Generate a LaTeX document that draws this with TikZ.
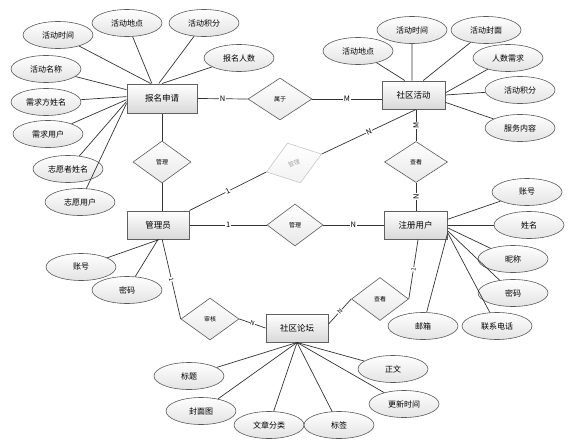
\documentclass[tikz,border=0pt]{standalone}
\usepackage{fontspec}
\setmainfont{Noto Sans CJK SC}
\usetikzlibrary{shapes.geometric,calc}
\begin{document}
\begin{tikzpicture}[x=1pt,y=-1pt,
  ent/.style={rectangle, draw=gray!75!black, line width=1pt, top color=white, bottom color=gray!30, minimum width=63pt, minimum height=28pt, inner sep=0pt, font=\fontsize{8.5}{9}\selectfont},
  attr/.style={ellipse, draw=gray!70!black, line width=0.6pt, top color=white, bottom color=gray!22, minimum width=70pt, minimum height=27pt, inner sep=0pt, font=\fontsize{8}{9}\selectfont},
  rel/.style={diamond, draw=gray!70!black, line width=0.6pt, top color=white, bottom color=gray!18, minimum width=58pt, minimum height=42pt, inner sep=0pt, font=\fontsize{6}{7}\selectfont},
  conn/.style={draw=black!80, line width=0.7pt},
  lbl/.style={fill=white, inner sep=0.6pt, font=\fontsize{7.5}{8}\selectfont},
  slbl/.style={fill=white, inner sep=0.5pt, sloped, font=\fontsize{6}{6.5}\selectfont}
]
\useasboundingbox (0,0) rectangle (575,444);

% entities
\node[ent, minimum width=70pt, minimum height=29pt] (bm) at (162,98.5) {报名申请};
\node[ent] (sa) at (413.5,95) {社区活动};
\node[ent, minimum width=62pt] (gly) at (158,225) {管理员};
\node[ent] (zc) at (415.5,225) {注册用户};
\node[ent, minimum width=62pt] (lt) at (297,328) {社区论坛};

% relationships
\node[rel, minimum width=64pt] (sy) at (280,99) {属于};
\node[rel] (gl1) at (162,162) {管理};
\node[rel, draw=gray!45, bottom color=gray!10, text=gray!70, rotate=18] (gl2) at (294,163) {管理};
\node[rel, minimum width=63pt, minimum height=41pt] (ck1) at (416,162) {查看};
\node[rel, minimum width=56pt] (gl3) at (295,225) {管理};
\node[rel] (sh) at (210,319) {审核};
\node[rel, minimum width=57pt, minimum height=43pt] (ck2) at (380,299) {查看};

% attributes of 报名申请
\node[attr] (a1) at (58,35) {活动时间};
\node[attr] (a2) at (127,23) {活动地点};
\node[attr] (a3) at (204,23) {活动积分};
\node[attr] (a4) at (239,58) {报名人数};
\node[attr] (a5) at (46,69) {活动名称};
\node[attr] (a6) at (46,102) {需求方姓名};
\node[attr] (a7) at (48,134) {需求用户};
\node[attr] (a8) at (68,169) {志愿者姓名};
\node[attr] (a9) at (80,202) {志愿用户};

% attributes of 社区活动
\node[attr] (b1) at (358,51) {活动地点};
\node[attr] (b2) at (412,30) {活动时间};
\node[attr] (b3) at (486,30) {活动封面};
\node[attr] (b4) at (508,58) {人数需求};
\node[attr] (b5) at (520,90) {活动积分};
\node[attr] (b6) at (520,128) {服务内容};

% attributes of 管理员
\node[attr] (c1) at (81,267) {账号};
\node[attr] (c2) at (127,290) {密码};

% attributes of 注册用户
\node[attr] (d1) at (527,192) {账号};
\node[attr] (d2) at (529,225) {姓名};
\node[attr] (d3) at (513,259) {昵称};
\node[attr] (d4) at (513,293) {密码};
\node[attr] (d5) at (423,326) {邮箱};
\node[attr] (d6) at (497,326) {联系电话};

% attributes of 社区论坛
\node[attr] (e1) at (189,376) {标题};
\node[attr] (e2) at (201,411) {封面图};
\node[attr] (e3) at (269,425) {文章分类};
\node[attr] (e4) at (339,425) {标签};
\node[attr] (e5) at (404,404) {更新时间};
\node[attr] (e6) at (393,369) {正文};

% attribute connectors
\draw[conn] (a1) -- (bm.127);
\draw[conn] (a2) -- (bm.124);
\draw[conn] (a3) -- (bm.102);
\draw[conn] (a4) -- (bm.90);
\draw[conn] (a5) -- (bm.166);
\draw[conn] (a6) -- (bm.177);
\draw[conn] (a7) -- (bm.182);
\draw[conn] (a8) -- (bm.185);
\draw[conn] (a9) -- (bm.188);

\draw[conn] (b1) -- (sa.121);
\draw[conn] (b2) -- (sa.96);
\draw[conn] (b3) -- (sa.56);
\draw[conn] (b4) -- (sa.4);
\draw[conn] (b5) -- (sa.0);
\draw[conn] (b6) -- (sa.347);

\draw[conn] (c1) -- (gly.275);
\draw[conn] (c2) -- (gly.270);

\draw[conn] (d1) -- (zc.10);
\draw[conn] (d2) -- (zc.0);
\draw[conn] (d3) -- (zc.355);
\draw[conn] (d4) -- (zc.350);
\draw[conn] (d5) -- (zc.345);
\draw[conn] (d6) -- (zc.347);

\draw[conn] (e1) -- (lt.south);
\draw[conn] (e2) -- (lt.south);
\draw[conn] (e3) -- (lt.south);
\draw[conn] (e4) -- (lt.south);
\draw[conn] (e5) -- (lt.south);
\draw[conn] (e6) -- (lt.south);

% relationship connectors
\coordinate (sab) at (ck1.north |- sa.south);
\draw[conn] (bm.east) -- node[lbl]{N} (sy.west);
\draw[conn] (sy.east) -- node[lbl]{M} (sy.east -| sa.west);
\draw[conn] (bm.south) -- (gl1.north);
\draw[conn] (gl1.south) -- (gl1.south |- gly.north);
\draw[conn] (sab) -- node[lbl, rotate=90]{M} (ck1.north);
\draw[conn] (ck1.south) -- node[lbl, rotate=90]{N} (ck1.south |- zc.north);
\draw[conn] (gly.east) -- node[lbl]{1} (gl3.west);
\draw[conn] (gl3.east) -- node[lbl]{N} (zc.west);
\draw[conn] (gly.north east) -- node[lbl, sloped]{1} (gl2.west);
\draw[conn] (gl2.east) -- node[lbl, sloped]{N} (sab);
\draw[conn] (gly.286) -- node[slbl]{1} (sh.west);
\draw[conn] (sh.east) -- node[slbl]{N} (lt.west);
\draw[conn] (lt.7) -- node[slbl]{N} (ck2.west);
\draw[conn] (ck2.east) -- node[slbl]{1} (zc.280);
\end{tikzpicture}
\end{document}
